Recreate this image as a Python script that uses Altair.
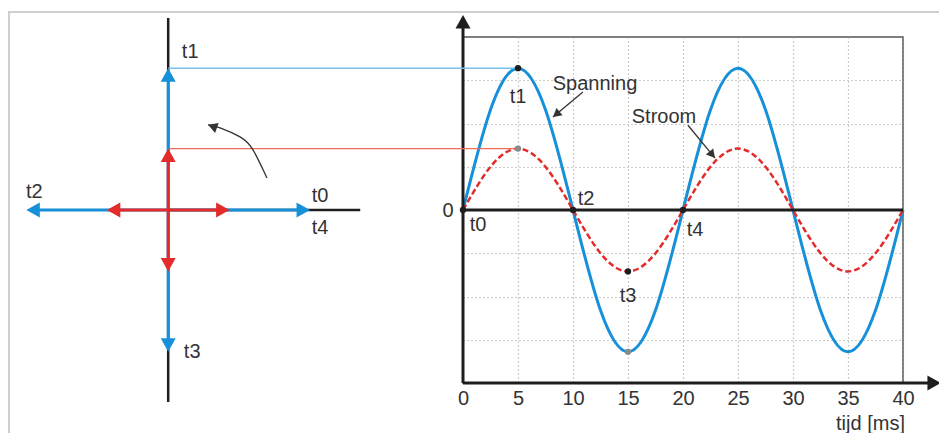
import math
import altair as alt
import pandas as pd

# ---------------- values ----------------
TIME_MS = [0, 2.5, 5, 7.5, 10, 12.5, 15, 17.5, 20, 22.5, 25, 27.5, 30, 32.5, 35, 37.5, 40]
SPANNING = [0, 2.32, 3.28, 2.32, 0, -2.32, -3.28, -2.32, 0, 2.32, 3.28, 2.32, 0, -2.32, -3.28, -2.32, 0]
STROOM = [0, 1.0, 1.42, 1.0, 0, -1.0, -1.42, -1.0, 0, 1.0, 1.42, 1.0, 0, -1.0, -1.42, -1.0, 0]
X_TICKS = [0, 5, 10, 15, 20, 25, 30, 35, 40]
Y_GRID = [-3, -2, -1, 0, 1, 2, 3]
SPAN_AMP = 3.28
STROOM_AMP = 1.42
PHASOR_LABELS = ["t0", "t1", "t2", "t3"]
PHASOR_ANGLES = [0, 90, 180, 270]
BLACK_DOT_T = [0, 5, 10, 20, 15]
BLACK_DOT_V = [0, 3.28, 0, 0, -1.42]
GRAY_DOT_T = [5, 15]
GRAY_DOT_V = [1.42, -3.28]
CURVE_LABELS = ["t0", "t1", "t2", "t3", "t4"]
CURVE_LABEL_T = [0, 5, 10, 15, 20]
CURVE_LABEL_V = [0, 3.28, 0, -1.42, 0]
ANNOT_TEXT = ["Spanning", "Stroom"]

# ---------------- layout / style ----------------
W, H = 440, 346
PX_PER_MS = W / 40
PX_PER_UNIT = H / 8
MS_PER_UNIT = PX_PER_UNIT / PX_PER_MS
CX = -26.8          # origin of the phasor diagram (in ms units)
CROSS = 4.44        # half length of the phasor cross axes (amplitude units)
FONT = "Liberation Sans"
FS = 20
BLUE = "#1690d8"
RED = "#e32b2b"
LIGHT_BLUE = "#79bfee"
LIGHT_RED = "#ef6b5b"
INK = "#1e1e1e"
TXT = "#333333"
GRID = "#9a9a9a"
HEAD = "M0,0L-1,1.8L1,1.8Z"   # arrow head, tip at origin, pointing up

XS = alt.Scale(domain=[0, 40], nice=False, zero=False)
YS = alt.Scale(domain=[-4, 4], nice=False, zero=False)
X_AXIS = alt.Axis(values=X_TICKS, title="tijd [ms]", grid=True, gridDash=[1, 3],
                  gridColor=GRID, gridWidth=1.2, domain=False, ticks=False,
                  labelFontSize=FS, labelFont=FONT, labelColor=TXT, labelPadding=5,
                  labelFlush=False, labelOverlap=False, titleFontSize=FS, titleFont=FONT,
                  titleFontWeight="normal", titleColor=TXT, titleX=407, titleY=40,
                  titleAlign="center", titleBaseline="middle")
Y_AXIS = alt.Axis(values=Y_GRID, labelExpr="datum.value == 0 ? '0' : ''", title=None,
                  grid=True, gridDash=[1, 3], gridColor=GRID, gridWidth=1.2,
                  domain=False, ticks=False, labelFontSize=FS, labelFont=FONT,
                  labelColor=TXT, labelPadding=10)


def X(f):
    return alt.X(f, type="quantitative", scale=XS, axis=X_AXIS)


def Y(f):
    return alt.Y(f, type="quantitative", scale=YS, axis=Y_AXIS)


def rules(df, color, width, dash=None):
    kw = dict(color=color, strokeWidth=width)
    if dash:
        kw["strokeDash"] = dash
    return alt.Chart(df).mark_rule(**kw).encode(
        x=X("x"), x2=alt.X2("x2"), y=Y("y"), y2=alt.Y2("y2"))


def heads(df, color, size):
    return alt.Chart(df).mark_point(shape=HEAD, filled=True, size=size, opacity=1,
                                    color=color, strokeWidth=0).encode(
        x=X("x"), y=Y("y"), angle=alt.Angle("angle:Q", scale=None))


def texts(df):
    return alt.Chart(df).mark_text(font=FONT, fontSize=FS, color=TXT, align="center",
                                   baseline="middle").encode(
        x=X("x"), y=Y("y"), text="label:N")


def head_angle(x1, y1, x2, y2):
    dxp = (x2 - x1) * PX_PER_MS
    dyp = -(y2 - y1) * PX_PER_UNIT
    return math.degrees(math.atan2(dxp, -dyp)) % 360


# ---------------- data tables ----------------
curves = pd.DataFrame({"x": TIME_MS, "span": SPANNING, "stroom": STROOM})

frame = pd.DataFrame({"a": [0]})

axes_df = pd.DataFrame({
    "x": [0, 0, 0], "x2": [0, 42.6, 40],
    "y": [-4, -4, 0], "y2": [4.25, -4, 0]})
axis_heads = pd.DataFrame({"x": [0, 43.45], "y": [4.51, -4], "angle": [0, 90]})

cross_df = pd.DataFrame({
    "x": [CX, CX], "x2": [CX, CX + CROSS * MS_PER_UNIT],
    "y": [-CROSS, 0], "y2": [CROSS, 0]})

link_blue = pd.DataFrame({"x": [CX], "x2": [5], "y": [SPAN_AMP], "y2": [SPAN_AMP]})
link_red = pd.DataFrame({"x": [CX], "x2": [5], "y": [STROOM_AMP], "y2": [STROOM_AMP]})


def phasor_tables(amp):
    lines, tips = [], []
    for lab, ang in zip(PHASOR_LABELS, PHASOR_ANGLES):
        c = round(math.cos(math.radians(ang)), 6)
        s = round(math.sin(math.radians(ang)), 6)
        short = amp - 4 / PX_PER_UNIT
        lines.append({"x": CX, "y": 0, "x2": CX + short * c * MS_PER_UNIT, "y2": short * s})
        tips.append({"x": CX + amp * c * MS_PER_UNIT, "y": amp * s,
                     "angle": (90 - ang) % 360, "label": lab})
    return pd.DataFrame(lines), pd.DataFrame(tips)


blue_lines, blue_tips = phasor_tables(SPAN_AMP)
red_lines, red_tips = phasor_tables(STROOM_AMP)

# phasor labels: offsets (pixels) from the blue tips
tip = {r["label"]: (r["x"], r["y"]) for _, r in blue_tips.iterrows()}
left_offsets = [("t0", "t0", 10, -14), ("t4", "t0", 10, 18), ("t1", "t1", 22, -16),
                ("t2", "t2", 8, -18), ("t3", "t3", 24, 0)]
left_labels = pd.DataFrame([
    {"label": lab, "x": tip[a][0] + dx / PX_PER_MS, "y": tip[a][1] - dy / PX_PER_UNIT}
    for lab, a, dx, dy in left_offsets])

right_offsets = [(15, 15), (0, 29), (13, -11), (0, 25), (12, 20)]
right_labels = pd.DataFrame([
    {"label": lab, "x": t + dx / PX_PER_MS, "y": v - dy / PX_PER_UNIT}
    for lab, t, v, (dx, dy) in zip(CURVE_LABELS, CURVE_LABEL_T, CURVE_LABEL_V, right_offsets)])

annot_labels = pd.DataFrame({"label": ANNOT_TEXT, "x": [12.0, 18.27], "y": [2.91, 2.15]})
annot_arrows = pd.DataFrame({"x": [10.9, 20.45], "y": [2.73, 1.96],
                             "x2": [8.18, 22.91], "y2": [2.15, 1.20]})
annot_heads = pd.DataFrame({
    "x": annot_arrows["x2"], "y": annot_arrows["y2"],
    "angle": [head_angle(r.x, r.y, r.x2, r.y2) for r in annot_arrows.itertuples()]})

rot_arrow = pd.DataFrame({"i": [0, 1, 2, 3, 4],
                          "x": [-17.82, -19.09, -20.27, -22.09, -23.18],
                          "y": [0.74, 1.39, 1.69, 1.90, 1.97]})
rot_head = pd.DataFrame({"x": [-23.18], "y": [1.97], "angle": [290]})

black_dots = pd.DataFrame({"x": BLACK_DOT_T, "y": BLACK_DOT_V})
gray_dots = pd.DataFrame({"x": GRAY_DOT_T, "y": GRAY_DOT_V})

# ---------------- layers ----------------
frame_top = alt.Chart(frame).mark_rule(color="#cfcfcf", strokeWidth=2).encode(
    x=alt.value(-455), x2=alt.value(476), y=alt.value(-25))
frame_left = alt.Chart(frame).mark_rule(color="#cfcfcf", strokeWidth=2).encode(
    x=alt.value(-454), y=alt.value(-25), y2=alt.value(396))

span_line = alt.Chart(curves).mark_line(color=BLUE, strokeWidth=3, interpolate="natural").encode(
    x=X("x"), y=Y("span"))
stroom_line = alt.Chart(curves).mark_line(color=RED, strokeWidth=2.5, strokeDash=[6, 3],
                                          interpolate="natural").encode(
    x=X("x"), y=Y("stroom"))

rot_line = alt.Chart(rot_arrow).mark_line(color="#333", strokeWidth=1.3, interpolate="natural").encode(
    x=X("x"), y=Y("y"), order="i:Q")

dots_black = alt.Chart(black_dots).mark_circle(color=INK, size=40, opacity=1).encode(x=X("x"), y=Y("y"))
dots_gray = alt.Chart(gray_dots).mark_circle(color="#8a8a8a", size=40, opacity=1).encode(x=X("x"), y=Y("y"))

chart = alt.layer(
    frame_top, frame_left,
    span_line, stroom_line,
    rules(axes_df, INK, 3), heads(axis_heads, INK, 225),
    rules(cross_df, INK, 2.5),
    rules(link_blue, LIGHT_BLUE, 1.5), rules(link_red, LIGHT_RED, 1.3),
    rules(blue_lines, BLUE, 3), heads(blue_tips, BLUE, 225),
    rules(red_lines, RED, 3), heads(red_tips, RED, 225),
    rot_line, heads(rot_head, "#333", 110),
    rules(annot_arrows, "#333", 1.3), heads(annot_heads, "#333", 90),
    dots_black, dots_gray,
    texts(left_labels), texts(right_labels), texts(annot_labels),
).properties(
    width=W, height=H,
    autosize=alt.AutoSizeParams(type="none"),
    padding={"left": 455, "top": 29, "right": 36, "bottom": 50},
    background="white",
).configure_view(stroke="#555555", strokeWidth=1.5)

chart.save("out.html", embed_options={"renderer": "svg", "actions": False})
